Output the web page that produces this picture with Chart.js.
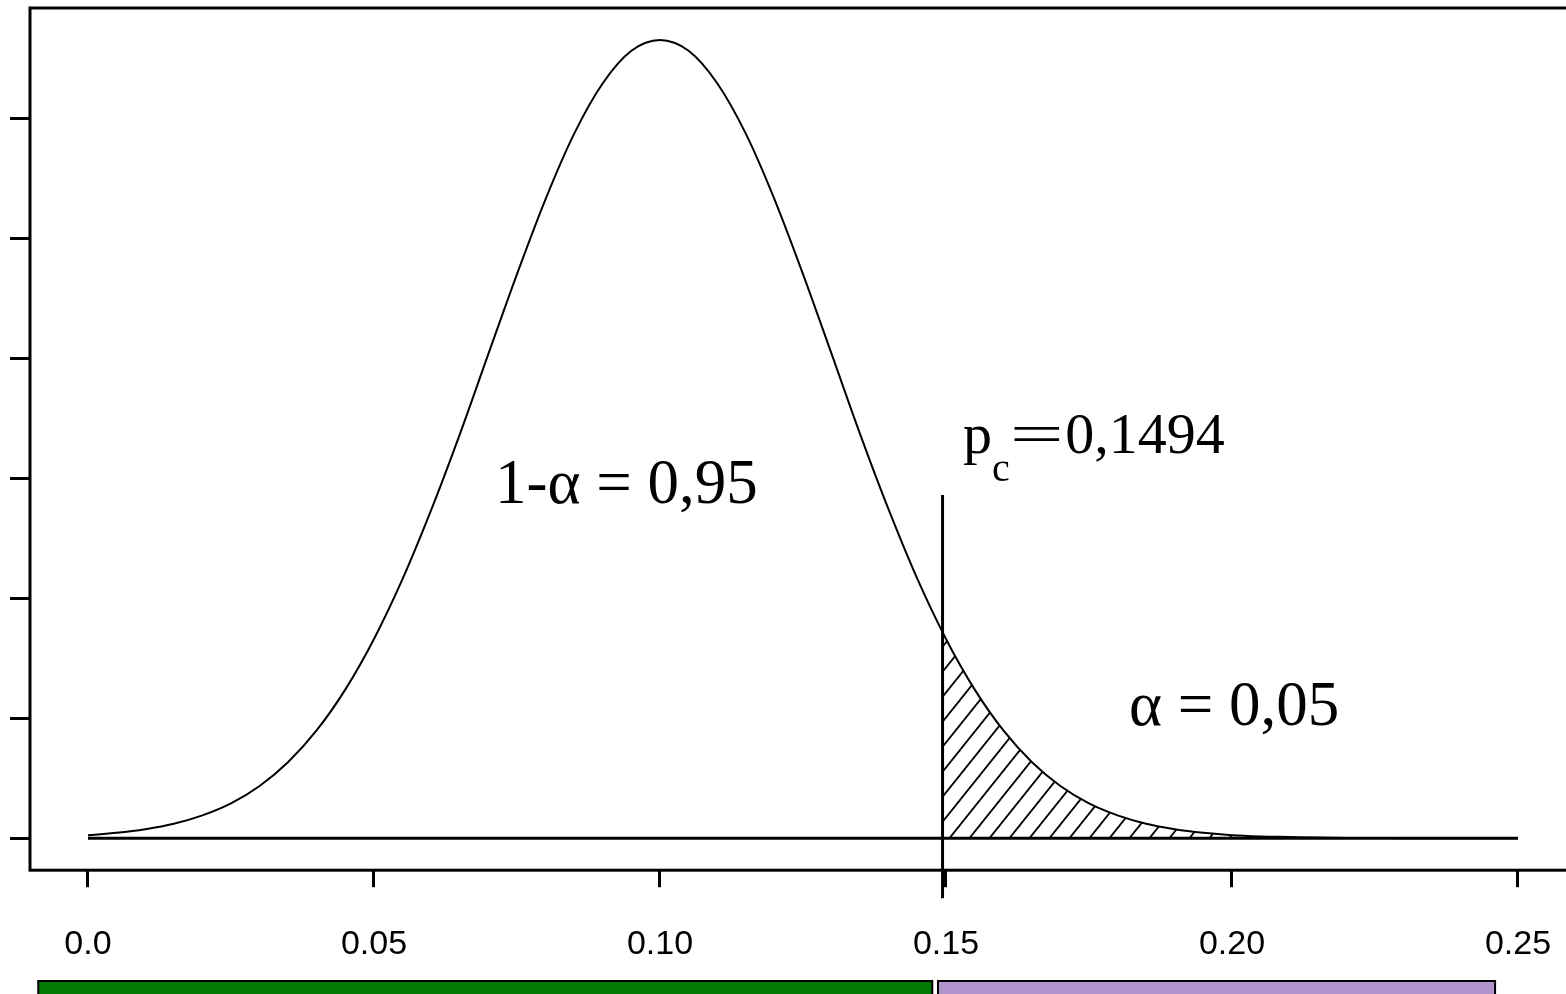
<!DOCTYPE html>
<html>
<head>
<meta charset="utf-8">
<script src="https://cdn.jsdelivr.net/npm/chart.js@4.4.1/dist/chart.umd.min.js"></script>
<style>
  html, body { margin: 0; padding: 0; background: #fff; overflow: hidden; }
  #chart { display: block; }
</style>
</head>
<body>
<canvas id="chart" width="1600" height="994"></canvas>
<script>
// sampling distribution of the proportion
const xValues = [
  0, 0.005, 0.01, 0.015, 0.02, 0.025, 0.03, 0.035, 0.04, 0.045,
  0.05, 0.055, 0.06, 0.065, 0.07, 0.075, 0.08, 0.085, 0.09, 0.095,
  0.10, 0.105, 0.11, 0.115, 0.12, 0.125, 0.13, 0.135, 0.14, 0.145,
  0.15, 0.155, 0.16, 0.165, 0.17, 0.175, 0.18, 0.185, 0.19, 0.195,
  0.20, 0.205, 0.21, 0.215, 0.22, 0.225, 0.23, 0.235, 0.24, 0.245, 0.25
];
const densityValues = [
  0.05, 0.09, 0.15, 0.24, 0.38, 0.58, 0.87, 1.27, 1.80, 2.48,
  3.32, 4.32, 5.47, 6.73, 8.07, 9.40, 10.65, 11.74, 12.58, 13.12,
  13.30, 13.12, 12.58, 11.74, 10.65, 9.40, 8.07, 6.73, 5.47, 4.32,
  3.32, 2.48, 1.80, 1.27, 0.87, 0.58, 0.38, 0.24, 0.15, 0.09,
  0.05, 0.03, 0.02, 0.01, 0.004, 0.002, 0.001, 0, 0, 0, 0
];
const criticalValue = 0.1494;
const criticalDensity = 3.43;
const criticalLineTop = 5.72;
const criticalLineBottom = -1.0;

const xTicks = [0, 0.05, 0.10, 0.15, 0.20, 0.25];
const xTickLabels = ['0.0', '0.05', '0.10', '0.15', '0.20', '0.25'];
const yTicks = [0, 2, 4, 6, 8, 10, 12];

// acceptance / rejection bars under the axis
const regionStarts = [-0.0087, 0.1486];
const regionEnds = [0.1476, 0.2460];
const regionColors = ['#007a00', '#b294cc'];

const curvePoints = xValues.map((x, i) => ({x: x, y: densityValues[i]}));
const tailPoints = [{x: criticalValue, y: criticalDensity}]
  .concat(curvePoints.filter(p => p.x >= 0.15));

const ctx = document.getElementById('chart').getContext('2d');

function makeHatch() {
  const c = document.createElement('canvas');
  c.width = 20; c.height = 25;
  const g = c.getContext('2d');
  g.strokeStyle = '#000';
  g.lineWidth = 1.8;
  [0, 25, 50].forEach(k => {
    g.beginPath();
    g.moveTo(-20, k + 25);
    g.lineTo(40, k - 50);
    g.stroke();
  });
  return ctx.createPattern(c, 'repeat');
}

const framePlugin = {
  id: 'frame',
  afterDraw(chart) {
    const {ctx, chartArea: a, scales: {x, y}} = chart;
    ctx.save();
    ctx.strokeStyle = '#000';
    ctx.lineWidth = 3;
    ctx.strokeRect(a.left, a.top, a.right - a.left, a.bottom - a.top);

    // coloured region bars
    ctx.lineWidth = 2;
    regionStarts.forEach((s, i) => {
      const l = x.getPixelForValue(s);
      const r = x.getPixelForValue(regionEnds[i]);
      ctx.fillStyle = regionColors[i];
      ctx.fillRect(l, 981, r - l, 20);
      ctx.strokeRect(l, 981, r - l, 20);
    });

    // annotations
    ctx.fillStyle = '#000';
    ctx.textBaseline = 'alphabetic';
    ctx.textAlign = 'left';
    ctx.font = '63px "Liberation Serif"';
    ctx.fillText('1-\u03b1 = 0,95', x.getPixelForValue(0.07115), y.getPixelForValue(5.583));
    ctx.fillText('\u03b1 = 0,05', x.getPixelForValue(0.18199), y.getPixelForValue(1.883));

    let px = x.getPixelForValue(0.15297);
    const py = y.getPixelForValue(6.417);
    ctx.font = '58px "Liberation Serif"';
    ctx.fillText('p', px, py);
    px += ctx.measureText('p').width;
    ctx.font = '40px "Liberation Serif"';
    ctx.fillText('c', px, py + 28);
    px += ctx.measureText('c').width;
    ctx.font = '58px "Liberation Serif"';
    ctx.save();
    ctx.translate(px, py);
    ctx.scale(1.65, 1);
    ctx.fillText('=', 0, 0);
    ctx.restore();
    px += ctx.measureText('=').width * 1.7;
    ctx.fillText('0,1494', px, py);
    ctx.restore();
  }
};

new Chart(ctx, {
  type: 'line',
  data: {
    datasets: [
      {
        data: curvePoints,
        borderColor: '#000',
        borderWidth: 2,
        pointRadius: 0,
        cubicInterpolationMode: 'monotone',
        fill: false
      },
      {
        data: tailPoints,
        borderWidth: 0,
        borderColor: 'rgba(0,0,0,0)',
        backgroundColor: makeHatch(),
        pointRadius: 0,
        cubicInterpolationMode: 'monotone',
        fill: 'origin'
      },
      {
        data: [{x: xValues[0], y: 0}, {x: xValues[xValues.length - 1], y: 0}],
        borderColor: '#000',
        borderWidth: 3,
        pointRadius: 0,
        fill: false
      },
      {
        data: [{x: criticalValue, y: criticalLineTop}, {x: criticalValue, y: criticalLineBottom}],
        borderColor: '#000',
        borderWidth: 3,
        pointRadius: 0,
        fill: false,
        clip: false
      }
    ]
  },
  options: {
    responsive: false,
    animation: false,
    layout: {padding: {left: 10, top: 8, right: 0, bottom: -8}},
    plugins: {legend: {display: false}, tooltip: {enabled: false}},
    scales: {
      x: {
        type: 'linear',
        min: -0.01014,
        max: 0.26434,
        afterBuildTicks: s => { s.ticks = xTicks.map(v => ({value: v})); },
        border: {display: false},
        grid: {drawOnChartArea: false, tickLength: 17, color: '#000', lineWidth: 3},
        ticks: {
          padding: 37,
          color: '#000',
          autoSkip: false,
          maxRotation: 0,
          font: {family: 'Liberation Sans', size: 34},
          callback: (v, i) => xTickLabels[i]
        }
      },
      y: {
        type: 'linear',
        min: -0.5333,
        max: 13.8333,
        afterBuildTicks: s => { s.ticks = yTicks.map(v => ({value: v})); },
        border: {display: false},
        grid: {drawOnChartArea: false, tickLength: 20, color: '#000', lineWidth: 3},
        ticks: {display: false}
      }
    }
  },
  plugins: [framePlugin]
});
</script>
</body>
</html>
